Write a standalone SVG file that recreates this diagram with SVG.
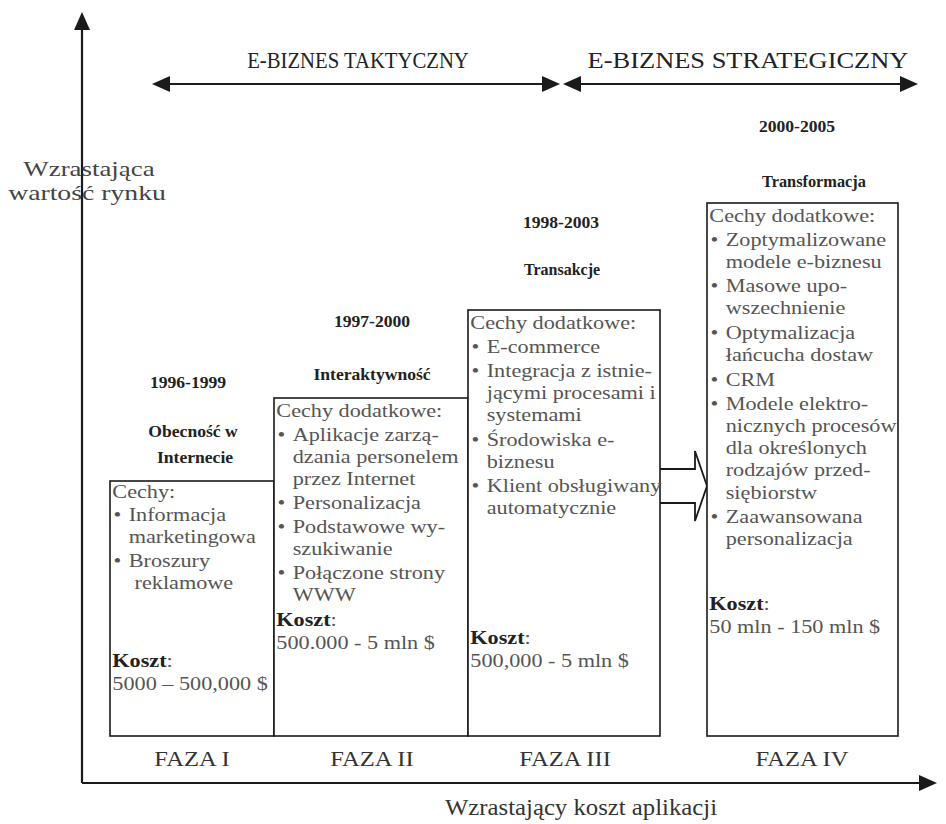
<svg xmlns="http://www.w3.org/2000/svg" width="946" height="824" viewBox="0 0 946 824">
<style>
text{font-family:"Liberation Serif","Times New Roman",serif;fill:#333}
.bx{fill:#fff;stroke:#1a1a1a;stroke-width:1.6}
.ln{stroke:#1a1a1a;stroke-width:2.2;fill:none}
.bt{font-size:19px;fill:#555}
.hd{font-size:16px;font-weight:bold;fill:#222;text-anchor:middle}
.kb{font-weight:bold;fill:#222}
.big{font-size:23px;fill:#222;text-anchor:middle}
.side{font-size:21px;fill:#444;text-anchor:middle}
.fz{font-size:21px;fill:#333;text-anchor:middle}
.blk{fill:#fff;stroke:#1a1a1a;stroke-width:1.8}
</style>
<defs>
<marker id="ah" viewBox="0 0 18 16" refX="15" refY="8" markerWidth="18" markerHeight="16" markerUnits="userSpaceOnUse" orient="auto-start-reverse"><path d="M0,0 L18,8 L0,16 z" fill="#1a1a1a"/></marker>
</defs>
<rect width="946" height="824" fill="#fff"/>

<g id="connectors">
<line class="ln" x1="82" y1="783" x2="82" y2="15" marker-end="url(#ah)"/>
<line class="ln" x1="82" y1="783" x2="934" y2="783" marker-end="url(#ah)"/>
<line class="ln" x1="155" y1="84" x2="557" y2="84" marker-start="url(#ah)" marker-end="url(#ah)"/>
<line class="ln" x1="566" y1="84" x2="915" y2="84" marker-start="url(#ah)" marker-end="url(#ah)"/>
<path class="blk" d="M660,469 H695 V451 L707,486 L695,521 V503 H660"/>
</g>

<g id="labels">
<text class="big" transform="translate(358,68) scale(0.9,1)">E-BIZNES TAKTYCZNY</text>
<text class="big" transform="translate(748,68) scale(1.15,1)">E-BIZNES STRATEGICZNY</text>
<text class="side" transform="translate(89,176) scale(1.28,1)">Wzrastająca</text>
<text class="side" transform="translate(87,200) scale(1.32,1)">wartość rynku</text>
<text class="big" transform="translate(581,815) scale(1.1,1)" style="font-size:22.5px;fill:#333">Wzrastający koszt aplikacji</text>
</g>

<g id="phase1">
<rect class="bx" x="110" y="481" width="164" height="255"/>
<text class="hd" transform="translate(188,388) scale(1.1,1)">1996-1999</text>
<text class="hd" transform="translate(193,437) scale(1.1,1)">Obecność w</text>
<text class="hd" transform="translate(195,463) scale(1.1,1)">Internecie</text>
<g transform="translate(110,0) scale(1.17,1)">
<text class="bt" x="2" y="498">Cechy:</text>
<text class="bt" x="3" y="521">•</text><text class="bt" x="16" y="521">Informacja</text>
<text class="bt" x="16" y="543">marketingowa</text>
<text class="bt" x="3" y="567">•</text><text class="bt" x="16" y="567">Broszury</text>
<text class="bt" x="21" y="589">reklamowe</text>
<text class="bt" x="2" y="667"><tspan class="kb">Koszt</tspan>:</text>
<text class="bt" x="2" y="690">5000 – 500,000 $</text>
</g>
<text class="fz" transform="translate(192,766) scale(1.17,1)">FAZA I</text>
</g>

<g id="phase2">
<rect class="bx" x="274" y="398" width="194" height="338"/>
<text class="hd" transform="translate(372,327) scale(1.1,1)">1997-2000</text>
<text class="hd" transform="translate(372,380) scale(1.1,1)">Interaktywność</text>
<g transform="translate(274,0) scale(1.17,1)">
<text class="bt" x="2" y="417">Cechy dodatkowe:</text>
<text class="bt" x="3" y="441">•</text><text class="bt" x="16" y="441">Aplikacje zarzą-</text>
<text class="bt" x="16" y="463">dzania personelem</text>
<text class="bt" x="16" y="485">przez Internet</text>
<text class="bt" x="3" y="509">•</text><text class="bt" x="16" y="509">Personalizacja</text>
<text class="bt" x="3" y="533">•</text><text class="bt" x="16" y="533">Podstawowe wy-</text>
<text class="bt" x="16" y="555">szukiwanie</text>
<text class="bt" x="3" y="579">•</text><text class="bt" x="16" y="579">Połączone strony</text>
<text class="bt" x="16" y="601">WWW</text>
<text class="bt" x="2" y="626"><tspan class="kb">Koszt</tspan>:</text>
<text class="bt" x="2" y="649">500.000 -  5 mln $</text>
</g>
<text class="fz" transform="translate(372,766) scale(1.17,1)">FAZA II</text>
</g>

<g id="phase3">
<rect class="bx" x="468" y="310" width="192" height="426"/>
<text class="hd" transform="translate(561,228) scale(1.1,1)">1998-2003</text>
<text class="hd" transform="translate(562,275) scale(1.0,1)">Transakcje</text>
<g transform="translate(468,0) scale(1.17,1)">
<text class="bt" x="2" y="329">Cechy dodatkowe:</text>
<text class="bt" x="3" y="353">•</text><text class="bt" x="16" y="353">E-commerce</text>
<text class="bt" x="3" y="377">•</text><text class="bt" x="16" y="377">Integracja z istnie-</text>
<text class="bt" x="16" y="399">jącymi procesami i</text>
<text class="bt" x="16" y="421">systemami</text>
<text class="bt" x="3" y="446">•</text><text class="bt" x="16" y="446">Środowiska e-</text>
<text class="bt" x="16" y="468">biznesu</text>
<text class="bt" x="3" y="492">•</text><text class="bt" x="16" y="492">Klient obsługiwany</text>
<text class="bt" x="16" y="514">automatycznie</text>
<text class="bt" x="2" y="644"><tspan class="kb">Koszt</tspan>:</text>
<text class="bt" x="2" y="667">500,000 -  5 mln $</text>
</g>
<text class="fz" transform="translate(565,766) scale(1.17,1)">FAZA III</text>
</g>

<g id="phase4">
<rect class="bx" x="707" y="203" width="191" height="533"/>
<text class="hd" transform="translate(797,132) scale(1.1,1)">2000-2005</text>
<text class="hd" transform="translate(814,187) scale(1.02,1)">Transformacja</text>
<g transform="translate(707,0) scale(1.17,1)">
<text class="bt" x="2" y="222">Cechy dodatkowe:</text>
<text class="bt" x="3" y="246">•</text><text class="bt" x="16" y="246">Zoptymalizowane</text>
<text class="bt" x="16" y="268">modele e-biznesu</text>
<text class="bt" x="3" y="292">•</text><text class="bt" x="16" y="292">Masowe upo-</text>
<text class="bt" x="16" y="314">wszechnienie</text>
<text class="bt" x="3" y="339">•</text><text class="bt" x="16" y="339">Optymalizacja</text>
<text class="bt" x="16" y="361">łańcucha dostaw</text>
<text class="bt" x="3" y="386">•</text><text class="bt" x="16" y="386">CRM</text>
<text class="bt" x="3" y="410">•</text><text class="bt" x="16" y="410">Modele elektro-</text>
<text class="bt" x="16" y="432">nicznych procesów</text>
<text class="bt" x="16" y="454">dla określonych</text>
<text class="bt" x="16" y="476">rodzajów przed-</text>
<text class="bt" x="16" y="499">siębiorstw</text>
<text class="bt" x="3" y="523">•</text><text class="bt" x="16" y="523">Zaawansowana</text>
<text class="bt" x="16" y="545">personalizacja</text>
<text class="bt" x="2" y="610"><tspan class="kb">Koszt</tspan>:</text>
<text class="bt" x="2" y="633">50 mln -  150 mln $</text>
</g>
<text class="fz" transform="translate(802,766) scale(1.17,1)">FAZA IV</text>
</g>
</svg>
